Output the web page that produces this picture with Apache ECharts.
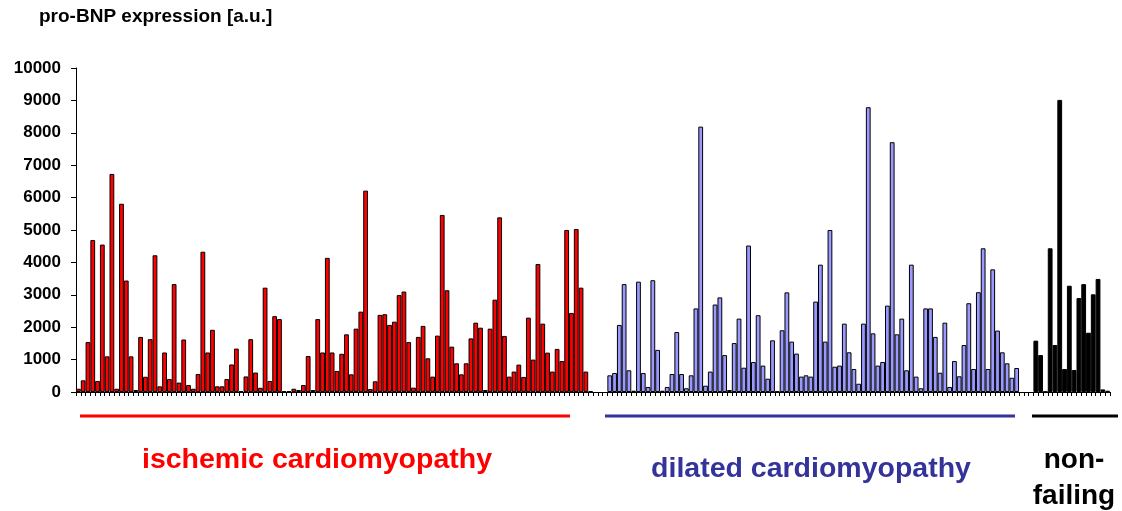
<!DOCTYPE html>
<html>
<head>
<meta charset="utf-8">
<script src="https://cdn.jsdelivr.net/npm/echarts@6/dist/echarts.min.js"></script>
<style>
  html, body { margin: 0; padding: 0; background: #fff; }
  #chart { width: 1122px; height: 511px; }
</style>
</head>
<body>
<div id="chart"></div>
<script>
// pro-BNP values per patient
var ischemic = [
    100, 360, 1540, 4690, 340, 4550, 1100, 6730, 100, 5810, 3440, 1100, 60, 1700, 470, 1630, 4220, 175, 1220, 400, 3330, 290, 1620, 215, 100, 555, 4330,
    1220, 1920, 175, 175, 400, 850, 1340, 30, 480, 1630, 600, 130, 3220, 340, 2340, 2250, 30, 30, 100, 60, 215, 1110, 60, 2250, 1220, 4140, 1220, 650,
    1180, 1780, 545, 1955, 2480, 6215, 90, 330, 2380, 2400, 2070, 2170, 2990, 3100, 1540, 135, 1700, 2040, 1040, 475, 1740, 5465, 3140, 1400, 885, 545,
    885, 1655, 2140, 1985, 60, 1955, 2850, 5390, 1730, 475, 630, 845, 465, 2295, 1000, 3950, 2110, 1215, 630, 1330, 955, 5000, 2440, 5030, 3220, 630,
    30
];
var dilated = [
    515, 585, 2070, 3330, 670, 40, 3405, 585, 155, 3450, 1300, 40, 155, 555, 1850, 555, 115, 515, 2580, 8190, 195, 630,
    2700, 2920, 1140, 60, 1510, 2265, 750, 4520, 925, 2370, 815, 410, 1595, 20, 1905, 3075, 1555, 1185, 475, 515, 475, 2790, 3930, 1555, 5000, 780,
    815, 2110, 1225, 710, 255, 2110, 8790, 1810, 815, 925, 2665, 7710, 1780, 2265, 670, 3930, 475, 115, 2580, 2580, 1700, 595, 2140, 155, 955, 485,
    1450, 2740, 710, 3080, 4435, 710, 3785, 1895, 1225, 885, 440, 740
];
var nonFailing = [1585, 1140, 10, 4435, 1450, 9015, 710, 3280, 680, 2900, 3330, 1830, 3015, 3490, 80, 40];
var gapSize = 3;
var yTicks = [0, 10000, 1000]; // min, max, interval

function renderChart() {
    var dom = document.getElementById('chart');
    var myChart = echarts.init(dom);

    // lay the three groups out on one category axis with empty slots between them
    var empty = function (n) { var a = []; for (var i = 0; i < n; i++) a.push('-'); return a; };
    var total = ischemic.length + gapSize + dilated.length + gapSize + nonFailing.length;
    var cats = [];
    for (var i = 0; i < total; i++) cats.push(String(i + 1));

    var isData = ischemic.concat(empty(total - ischemic.length));
    var dcData = empty(ischemic.length + gapSize).concat(dilated).concat(empty(gapSize + nonFailing.length));
    var nfData = empty(total - nonFailing.length).concat(nonFailing);

    var font = '"Liberation Sans", Arial, sans-serif';
    var barBase = {
        type: 'bar',
        stack: 'all',
        barWidth: '100%',
        barGap: '0%',
        barCategoryGap: '0%',
        silent: true
    };

    var option = {
        animation: false,
        backgroundColor: '#FFFFFF',
        grid: {
            left: 76,
            right: 12,
            top: 68,
            bottom: 119
        },
        xAxis: {
            type: 'category',
            data: cats,
            boundaryGap: true,
            axisLine: { show: true, lineStyle: { color: '#000', width: 1 } },
            axisTick: { show: true, interval: 0, length: 4, lineStyle: { color: '#000' } },
            axisLabel: { show: false },
            splitLine: { show: false }
        },
        yAxis: {
            type: 'value',
            min: yTicks[0],
            max: yTicks[1],
            interval: yTicks[2],
            axisLine: { show: true, lineStyle: { color: '#000', width: 1 } },
            axisTick: { show: true, length: 5, lineStyle: { color: '#000' } },
            axisLabel: {
                color: '#000',
                fontFamily: font,
                fontWeight: 'bold',
                fontSize: 17,
                margin: 15,
                formatter: function (v) { return String(v); }
            },
            splitLine: { show: false }
        },
        series: [
            Object.assign({}, barBase, {
                name: 'ischemic cardiomyopathy',
                data: isData,
                itemStyle: { color: '#FF0000', borderColor: '#000', borderWidth: 1 }
            }),
            Object.assign({}, barBase, {
                name: 'dilated cardiomyopathy',
                data: dcData,
                itemStyle: { color: '#9999FF', borderColor: '#000', borderWidth: 1 }
            }),
            Object.assign({}, barBase, {
                name: 'non-failing',
                data: nfData,
                itemStyle: { color: '#000000', borderColor: '#000', borderWidth: 1 }
            })
        ],
        graphic: [
            {
                type: 'text', x: 39, y: 17,
                style: { text: 'pro-BNP expression [a.u.]', font: 'bold 19px ' + font, fill: '#000', textVerticalAlign: 'middle' }
            },
            { type: 'line', shape: { x1: 80, y1: 416, x2: 570, y2: 416 }, style: { stroke: '#FF0000', lineWidth: 3 } },
            { type: 'line', shape: { x1: 605, y1: 416, x2: 1015, y2: 416 }, style: { stroke: '#333399', lineWidth: 3 } },
            { type: 'line', shape: { x1: 1032, y1: 416, x2: 1118, y2: 416 }, style: { stroke: '#000000', lineWidth: 3 } },
            {
                type: 'text', x: 317, y: 460,
                style: { text: 'ischemic cardiomyopathy', font: 'bold 28.5px ' + font, fill: '#FF0000', textAlign: 'center', textVerticalAlign: 'middle' }
            },
            {
                type: 'text', x: 811, y: 469,
                style: { text: 'dilated cardiomyopathy', font: 'bold 28.5px ' + font, fill: '#333399', textAlign: 'center', textVerticalAlign: 'middle' }
            },
            {
                type: 'text', x: 1074, y: 460,
                style: { text: 'non-', font: 'bold 28px ' + font, fill: '#000', textAlign: 'center', textVerticalAlign: 'middle' }
            },
            {
                type: 'text', x: 1074, y: 496,
                style: { text: 'failing', font: 'bold 28px ' + font, fill: '#000', textAlign: 'center', textVerticalAlign: 'middle' }
            }
        ]
    };

    myChart.setOption(option);
}
renderChart();
</script>
</body>
</html>
